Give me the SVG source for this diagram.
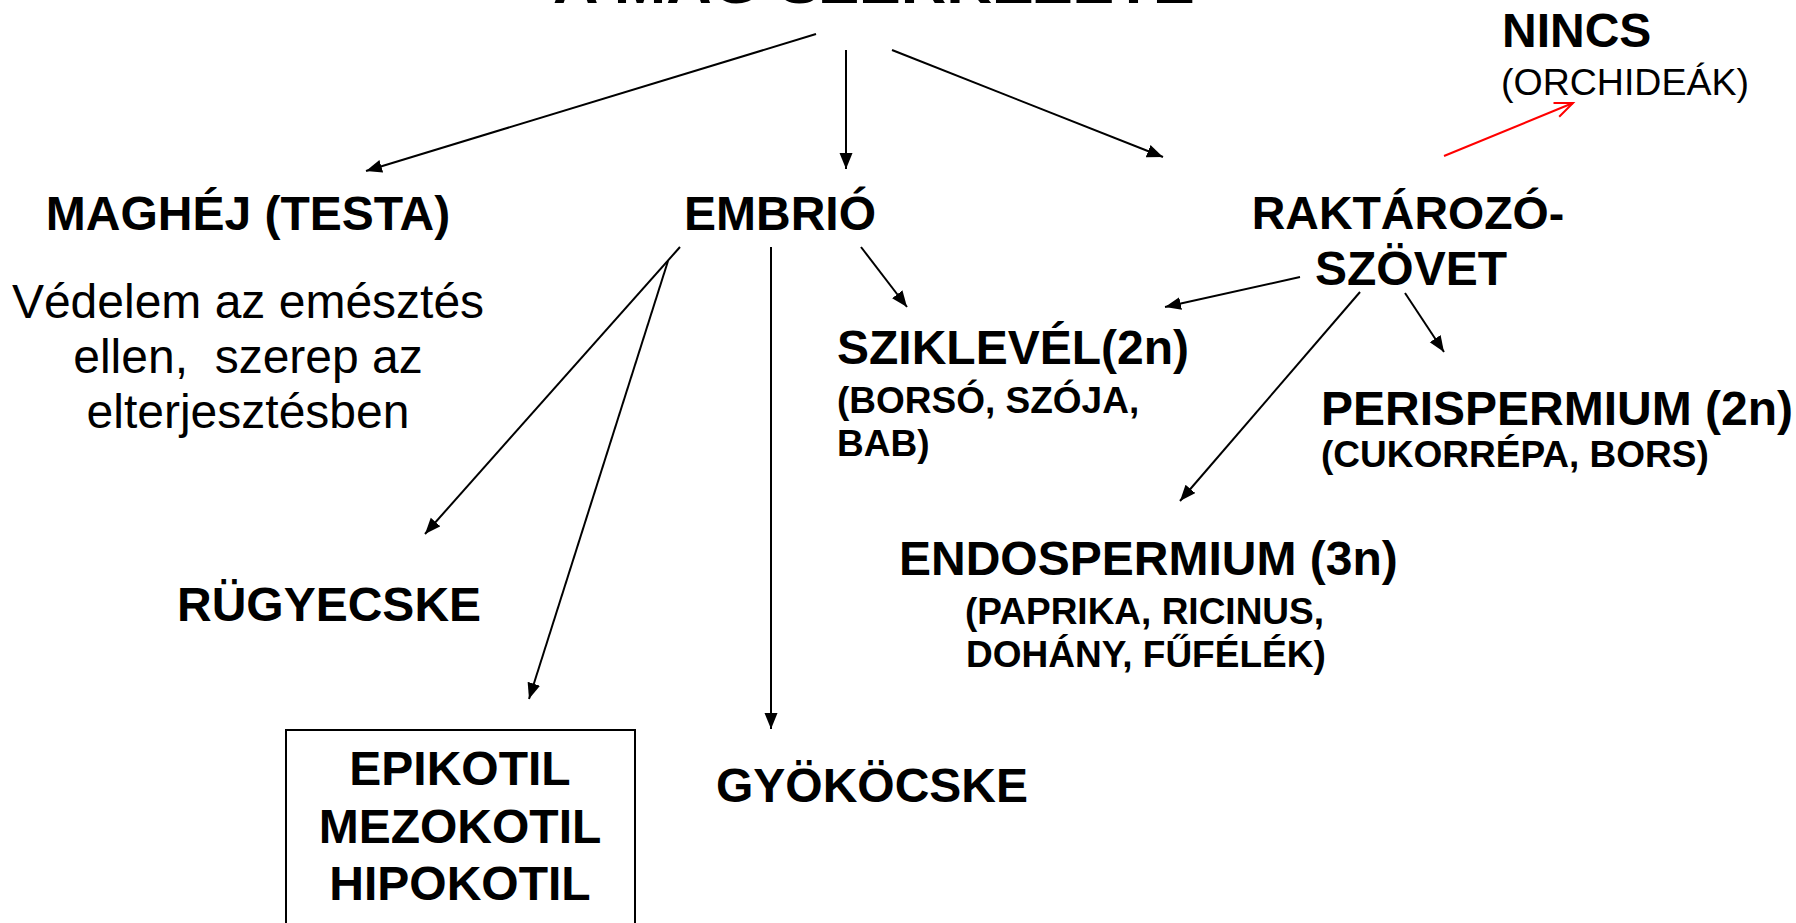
<svg xmlns="http://www.w3.org/2000/svg" width="1796" height="923" viewBox="0 0 1796 923">
<style>
text{font-family:"Liberation Sans",Arial,sans-serif;fill:#000}
.h{font-weight:bold;font-size:48px}
.s{font-weight:bold;font-size:37px}
.r{font-size:48px}
.c{text-anchor:middle}
.ln{stroke:#000;stroke-width:2;fill:none;marker-end:url(#ah)}
.red{stroke:#f00;stroke-width:2;fill:none;marker-end:url(#ahr)}
</style>
<defs>
<marker id="ah" markerUnits="userSpaceOnUse" markerWidth="18" markerHeight="14" refX="16" refY="6.5" orient="auto">
<path d="M0,0 L16,6.5 L0,13 z" fill="#000"/>
</marker>
<marker id="ahr" markerUnits="userSpaceOnUse" markerWidth="22" markerHeight="20" refX="19" refY="8.5" orient="auto">
<path d="M1,1 L19,8.5 L1,16" stroke="#f00" stroke-width="2" fill="none"/>
</marker>
</defs>
<rect width="1796" height="923" fill="#fff"/>

<g id="title"><text x="553" y="2.5" style="font-weight:bold;font-size:63px">A MAG SZERKEZETE</text></g>

<g id="connectors">
<line class="ln" x1="816" y1="34" x2="366" y2="171"/>
<line class="ln" x1="846" y1="50" x2="846" y2="169"/>
<line class="ln" x1="892" y1="50" x2="1163" y2="157"/>
<line class="ln" x1="680" y1="247" x2="425" y2="534"/>
<line class="ln" x1="668" y1="261" x2="529" y2="699"/>
<line class="ln" x1="771" y1="247" x2="771" y2="729"/>
<line class="ln" x1="861" y1="247" x2="907" y2="307"/>
<line class="ln" x1="1300" y1="277" x2="1165" y2="307"/>
<line class="ln" x1="1360" y1="292" x2="1180" y2="501"/>
<line class="ln" x1="1405" y1="293" x2="1444" y2="352"/>
<line class="red" x1="1444" y1="156" x2="1573" y2="103"/>
</g>

<g id="nincs">
<text class="h" x="1502" y="47">NINCS</text>
<text x="1501" y="95" style="font-size:37.5px">(ORCHIDEÁK)</text>
</g>

<g id="maghej">
<text class="h c" x="248" y="230">MAGHÉJ (TESTA)</text>
<text class="r c" x="248" y="318">Védelem az emésztés</text>
<text class="r c" x="248" y="373" xml:space="preserve">ellen,  szerep az</text>
<text class="r c" x="248" y="428">elterjesztésben</text>
</g>

<g id="embrio"><text class="h c" x="780" y="230">EMBRIÓ</text></g>

<g id="raktarozo">
<text class="h c" x="1408" y="229" style="font-size:46.5px">RAKTÁROZÓ-</text>
<text class="h c" x="1411" y="285">SZÖVET</text>
</g>

<g id="sziklevel">
<text class="h" x="837" y="364">SZIKLEVÉL(2n)</text>
<text class="s" x="837" y="413">(BORSÓ, SZÓJA,</text>
<text class="s" x="837" y="456">BAB)</text>
</g>

<g id="perispermium">
<text class="h" x="1321" y="425">PERISPERMIUM (2n)</text>
<text class="s" x="1321" y="467">(CUKORRÉPA, BORS)</text>
</g>

<g id="endospermium">
<text class="h" x="899" y="575">ENDOSPERMIUM (3n)</text>
<text class="s" x="965" y="624">(PAPRIKA, RICINUS,</text>
<text class="s" x="966" y="667">DOHÁNY, FŰFÉLÉK)</text>
</g>

<g id="rugyecske"><text class="h" x="177" y="621">RÜGYECSKE</text></g>

<g id="kotil">
<rect x="286" y="730" width="349" height="200" fill="none" stroke="#000" stroke-width="2"/>
<text class="h c" x="460" y="785">EPIKOTIL</text>
<text class="h c" x="460" y="843">MEZOKOTIL</text>
<text class="h c" x="460" y="900">HIPOKOTIL</text>
</g>

<g id="gyokocske"><text class="h" x="716" y="802">GYÖKÖCSKE</text></g>
</svg>
